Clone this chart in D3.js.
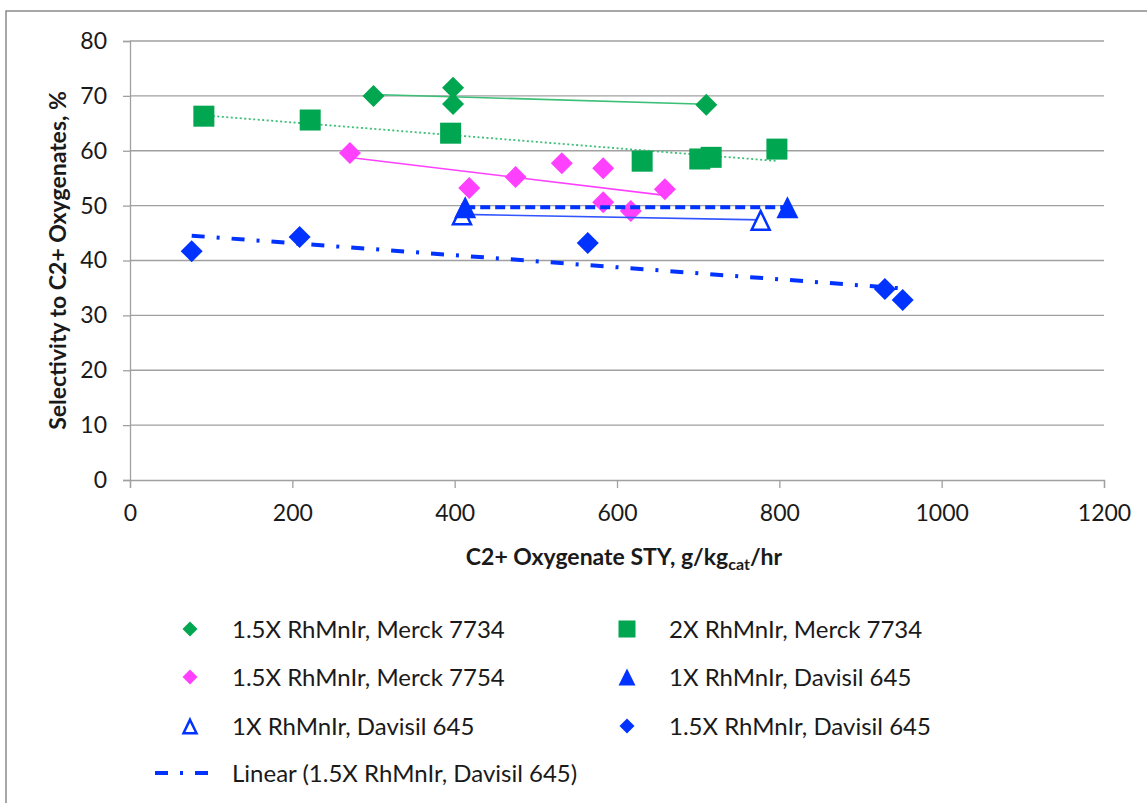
<!DOCTYPE html>
<html lang="en">
<head>
  <meta charset="UTF-8">
  <title>Selectivity vs C2+ Oxygenate STY</title>
  <script src="https://d3js.org/d3.v7.min.js"></script>
  <style>
    body {
      margin: 0;
      background: #fff;
      font-family: Lato, "Open Sans", sans-serif;
    }
    svg text { fill: #1a1a1a; }
  </style>
</head>
<body>
  <div id="chart"></div>
  <script>
    // series data
    const names = [
      "1.5X RhMnIr, Merck 7734",
      "2X RhMnIr, Merck 7734",
      "1.5X RhMnIr, Merck 7754",
      "1X RhMnIr, Davisil 645",
      "1X RhMnIr, Davisil 645",
      "1.5X RhMnIr, Davisil 645"
    ];
    const gdX = [300, 398, 398, 710];
    const gdY = [70.0, 71.5, 68.5, 68.4];
    const gsX = [91, 222, 395, 631, 702, 716, 797];
    const gsY = [66.3, 65.6, 63.2, 58.1, 58.5, 58.8, 60.3];
    const mgX = [271, 418, 475, 532, 583, 583, 617, 659];
    const mgY = [59.6, 53.2, 55.2, 57.7, 56.8, 50.6, 49.0, 53.0];
    const ftX = [413, 810];
    const ftY = [49.7, 49.7];
    const otX = [409, 777];
    const otY = [48.4, 47.4];
    const bdX = [76, 209, 564, 930, 952];
    const bdY = [41.7, 44.3, 43.2, 34.8, 32.8];

    const xTicks = [0, 200, 400, 600, 800, 1000, 1200];
    const yTicks = [0, 10, 20, 30, 40, 50, 60, 70, 80];

    const W = 1147, H = 803;
    const margin = { top: 41, left: 130 };
    const width = 974, height = 439;

    const svg = d3.select("#chart").append("svg")
      .attr("width", W).attr("height", H);

    // outer chart frame
    svg.append("rect")
      .attr("x", 6).attr("y", 11)
      .attr("width", W + 20).attr("height", H + 20)
      .attr("fill", "none").attr("stroke", "#8a8a8a").attr("stroke-width", 1.5);

    const g = svg.append("g").attr("transform", `translate(${margin.left},${margin.top})`);

    const x = d3.scaleLinear().domain([0, 1200]).range([0, width]);
    const y = d3.scaleLinear().domain([0, 80]).range([height, 0]);

    // gridlines
    g.append("g").selectAll("line")
      .data(yTicks.filter(d => d > 0))
      .enter().append("line")
      .attr("x1", 0).attr("x2", width)
      .attr("y1", d => y(d)).attr("y2", d => y(d))
      .attr("stroke", "#a0a0a0").attr("stroke-width", 1.3);

    const yAxis = g.append("g")
      .call(d3.axisLeft(y).tickValues(yTicks).tickSize(7).tickPadding(16));
    const xAxis = g.append("g")
      .attr("transform", `translate(0,${height})`)
      .call(d3.axisBottom(x).tickValues(xTicks).tickFormat(d3.format("d")).tickSize(8).tickPadding(17));
    [xAxis, yAxis].forEach(a => {
      a.select(".domain").attr("stroke", "#a0a0a0").attr("stroke-width", 1.3);
      a.selectAll(".tick line").attr("stroke", "#a0a0a0").attr("stroke-width", 1.3);
      a.selectAll(".tick text")
        .style("font-family", "Lato, sans-serif")
        .style("font-size", "23px")
        .attr("fill", "#1a1a1a");
    });

    // axis titles
    g.append("text")
      .attr("transform", `translate(${-72},${height / 2}) rotate(-90)`)
      .attr("text-anchor", "middle")
      .attr("dy", "0.35em")
      .style("font-size", "23px").style("font-weight", "bold")
      .text("Selectivity to C2+ Oxygenates, %");

    const xt = g.append("text")
      .attr("x", width / 2 + 7).attr("y", height + 85)
      .attr("text-anchor", "middle")
      .style("font-size", "23px").style("font-weight", "bold");
    xt.append("tspan").text("C2+ Oxygenate STY, g/kg");
    xt.append("tspan").attr("dy", 5).style("font-size", "16px").text("cat");
    xt.append("tspan").attr("dy", -5).text("/hr");

    const green = "#00a650", magenta = "#ff40ff", blue = "#0033ff";

    const series = [
      { name: names[0], xs: gdX, ys: gdY, shape: "diamond", color: green, fill: true,
        trend: { color: "#3cbf77", width: 1.6, dash: null } },
      { name: names[1], xs: gsX, ys: gsY, shape: "square", color: green, fill: true,
        trend: { color: "#3cbf77", width: 1.8, dash: "2,2.5" } },
      { name: names[2], xs: mgX, ys: mgY, shape: "diamond", color: magenta, fill: true,
        trend: { color: magenta, width: 1.6, dash: null } },
      { name: names[4], xs: otX, ys: otY, shape: "triangle", color: blue, fill: false,
        trend: { color: "#3355ff", width: 1.6, dash: null } },
      { name: names[3], xs: ftX, ys: ftY, shape: "triangle", color: blue, fill: true,
        trend: { color: blue, width: 4, dash: "10,5" } },
      { name: names[5], xs: bdX, ys: bdY, shape: "diamond", color: blue, fill: true,
        trend: { color: blue, width: 4, dash: "13,12,3,12" } }
    ];

    // least squares trendline as Excel draws it
    function fit(xs, ys) {
      const mx = d3.mean(xs), my = d3.mean(ys);
      const sxy = d3.sum(xs, (v, i) => (v - mx) * (ys[i] - my));
      const sxx = d3.sum(xs, v => (v - mx) * (v - mx));
      const b = sxx ? sxy / sxx : 0;
      const x0 = d3.min(xs), x1 = d3.max(xs);
      return [[x0, my + b * (x0 - mx)], [x1, my + b * (x1 - mx)]];
    }

    function marker(sel, shape, size, color, filled) {
      if (shape === "diamond") {
        const s = size / 2;
        sel.append("path").attr("d", `M0,${-s}L${s},0L0,${s}L${-s},0Z`)
          .attr("fill", color);
      } else if (shape === "square") {
        sel.append("rect")
          .attr("x", -size / 2).attr("y", -size / 2)
          .attr("width", size).attr("height", size)
          .attr("fill", color);
      } else {
        const h = size, w = size;
        const sw = filled ? 0 : 2.5;
        const i = sw / 2;
        sel.append("path")
          .attr("d", `M0,${-h / 2 + i * 1.8}L${w / 2 - i * 1.6},${h / 2 - i}L${-w / 2 + i * 1.6},${h / 2 - i}Z`)
          .attr("fill", filled ? color : "#fff")
          .attr("stroke", filled ? "none" : color)
          .attr("stroke-width", sw);
      }
    }

    const line = d3.line().x(d => x(d[0])).y(d => y(d[1]));

    series.forEach(s => {
      const grp = g.append("g");
      grp.append("path")
        .attr("d", line(fit(s.xs, s.ys)))
        .attr("fill", "none")
        .attr("stroke", s.trend.color)
        .attr("stroke-width", s.trend.width)
        .attr("stroke-dasharray", s.trend.dash);
      s.xs.forEach((v, i) => {
        const m = grp.append("g").attr("transform", `translate(${x(v)},${y(s.ys[i])})`);
        marker(m, s.shape, s.shape === "square" ? 21 : 22, s.color, s.fill);
      });
    });

    // legend
    const legendItems = [
      { name: names[0], shape: "diamond", color: green, fill: true, size: 15 },
      { name: names[1], shape: "square", color: green, fill: true, size: 17 },
      { name: names[2], shape: "diamond", color: magenta, fill: true, size: 15 },
      { name: names[3], shape: "triangle", color: blue, fill: true, size: 17 },
      { name: names[4], shape: "triangle", color: blue, fill: false, size: 17 },
      { name: names[5], shape: "diamond", color: blue, fill: true, size: 15 },
      { name: "Linear (1.5X RhMnIr, Davisil 645)", line: true }
    ];
    const legCol = [190, 627], legRow = [629, 677, 726, 773];
    const leg = svg.selectAll("g.legend")
      .data(legendItems)
      .enter().append("g")
      .attr("class", "legend")
      .attr("transform", (d, i) => `translate(${legCol[i % 2]},${legRow[Math.floor(i / 2)]})`);
    leg.each(function (d) {
      const sel = d3.select(this);
      if (d.line) {
        sel.append("line").attr("x1", -35).attr("x2", 22)
          .attr("stroke", blue).attr("stroke-width", 4)
          .attr("stroke-dasharray", "13,12,3,12");
      } else {
        marker(sel, d.shape, d.size, d.color, d.fill);
      }
    });
    leg.append("text")
      .attr("x", 42).attr("dy", "0.36em")
      .style("font-size", "24px")
      .text(d => d.name);
  </script>
</body>
</html>
